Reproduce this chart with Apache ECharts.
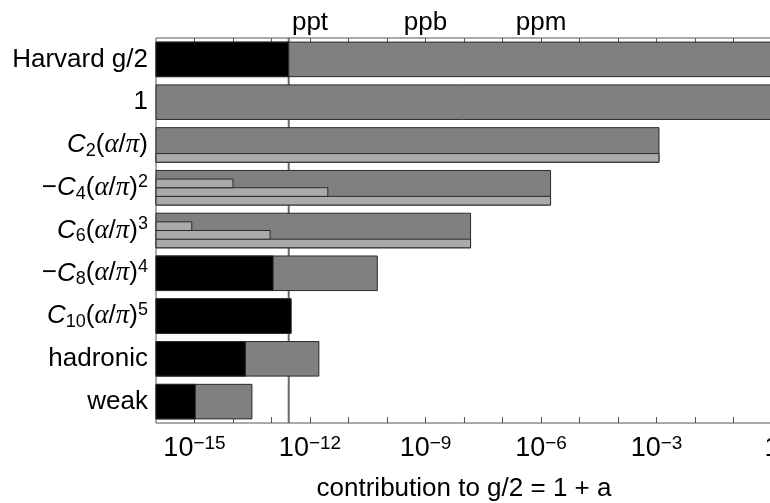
<!DOCTYPE html>
<html>
<head>
<meta charset="utf-8">
<script src="https://cdn.jsdelivr.net/npm/echarts@6/dist/echarts.min.js"></script>
<style>
  html, body { margin: 0; padding: 0; background: #fff; }
  #chart { width: 770px; height: 503px; }
</style>
</head>
<body>
<div id="chart"></div>
<script>
// rows, top to bottom
var categories = ['Harvard g/2', '1', 'C2', '-C4', 'C6', '-C8', 'C10', 'hadronic', 'weak'];

// size of each contribution (dark grey bars)
var contribution = [1.00116, 1, 1.16e-3, 1.77e-6, 1.48e-8, 5.6e-11, 3.1e-13, 1.7e-12, 3.1e-14];
// uncertainty of each contribution (black bars)
var uncertainty = [2.8e-13, null, null, null, null, 1.1e-13, 3.25e-13, 2.1e-14, 1.05e-15];
// pieces of the QED terms (light grey bars): mass independent, muon loop, tau loop
var termMain = [null, null, 1.16e-3, 1.77e-6, 1.48e-8, null, null, null, null];
var termMuon = [null, null, null, 2.9e-12, 9.2e-14, null, null, null, null];
var termTau = [null, null, null, 1.0e-14, 8.5e-16, null, null, null, null];

// precision of the Harvard measurement
var harvardPrecision = 2.8e-13;

// axis ticks: one per decade, labels every third decade
var tickValues = [1e-15, 1e-14, 1e-13, 1e-12, 1e-11, 1e-10, 1e-9, 1e-8, 1e-7, 1e-6, 1e-5, 1e-4, 1e-3, 1e-2, 1e-1, 1];
var bottomLabelValues = [1e-15, 1e-12, 1e-9, 1e-6, 1e-3, 1];
var topLabels = {'-12': 'ppt', '-9': 'ppb', '-6': 'ppm'};

var font = 'Liberation Sans, Arial, Helvetica, sans-serif';

var labelText = {
    'Harvard g/2': '{n|Harvard g/2}',
    '1': '{n|1}',
    'C2': '{it|C}{sub|2}{n|(}{gr|α}{n|/}{gr|π}{n|)}',
    '-C4': '{n|−}{it|C}{sub|4}{n|(}{gr|α}{n|/}{gr|π}{n|)}{sup|2}',
    'C6': '{it|C}{sub|6}{n|(}{gr|α}{n|/}{gr|π}{n|)}{sup|3}',
    '-C8': '{n|−}{it|C}{sub|8}{n|(}{gr|α}{n|/}{gr|π}{n|)}{sup|4}',
    'C10': '{it|C}{sub|10}{n|(}{gr|α}{n|/}{gr|π}{n|)}{sup|5}',
    'hadronic': '{n|hadronic}',
    'weak': '{n|weak}'
};

function rows(values, lane) {
    var out = [];
    values.forEach(function (v, i) {
        if (v != null) out.push([v, i, lane]);
    });
    return out;
}

// lane 0 = full bar height, lanes 1..3 = quarter strips
function barRenderer(fill) {
    return function (params, api) {
        var v = api.value(0);
        var cat = api.value(1);
        var lane = api.value(2);
        var end = api.coord([v, cat]);
        var x0 = params.coordSys.x;
        var band = api.size([0, 1])[1];
        var h = band * 0.808;
        var top = end[1] - h / 2;
        var y = top, hh = h;
        if (lane > 0) {
            hh = h / 4;
            y = top + lane * hh;
        }
        return {
            type: 'rect',
            shape: {x: x0, y: y, width: end[0] - x0, height: hh},
            style: {fill: fill, stroke: '#2a2a2a', lineWidth: 1}
        };
    };
}

function exponent(v) {
    return Math.round(Math.log10(v));
}

var chart = echarts.init(document.getElementById('chart'));

chart.setOption({
    animation: false,
    grid: {
        left: 156, top: 38, width: 616, height: 385,
        outerBoundsMode: 'none', containLabel: false,
        show: true, borderColor: '#555', borderWidth: 1, backgroundColor: 'transparent'
    },
    xAxis: [
        {
            type: 'log',
            logBase: 10,
            min: 1e-16,
            max: 1,
            interval: 1,
            position: 'bottom',
            axisLine: {show: false, onZero: false},
            axisTick: {show: true, inside: true, length: 6, customValues: tickValues, lineStyle: {color: '#555'}},
            splitLine: {show: false},
            axisLabel: {
                margin: 11,
                customValues: bottomLabelValues,
                formatter: function (v) {
                    var e = exponent(v);
                    if (e === 0) return '{b|1}';
                    return '{b|10}{s|−' + (-e) + '}';
                },
                rich: {
                    b: {fontFamily: font, fontSize: 27, lineHeight: 30, color: '#000'},
                    s: {fontFamily: font, fontSize: 19, lineHeight: 16, verticalAlign: 'top', color: '#000'}
                }
            },
            name: 'contribution to g/2 = 1 + a',
            nameLocation: 'middle',
            nameGap: 53,
            nameTextStyle: {fontFamily: font, fontSize: 26, color: '#000'}
        },
        {
            type: 'log',
            logBase: 10,
            min: 1e-16,
            max: 1,
            interval: 1,
            position: 'top',
            axisLine: {show: false, onZero: false},
            axisTick: {show: true, inside: true, length: 4, customValues: tickValues, lineStyle: {color: '#555'}},
            splitLine: {show: false},
            axisLabel: {
                margin: 2,
                fontFamily: font,
                fontSize: 26,
                color: '#000',
                formatter: function (v) {
                    return topLabels[exponent(v)] || '';
                }
            }
        }
    ],
    yAxis: {
        type: 'category',
        data: categories,
        inverse: true,
        axisLine: {show: false, onZero: false},
        axisTick: {show: false},
        splitLine: {show: false},
        axisLabel: {
            margin: 8,
            formatter: function (v) {
                return labelText[v];
            },
            rich: {
                n: {fontFamily: font, fontSize: 26, lineHeight: 30, color: '#000'},
                it: {fontFamily: font, fontSize: 26, lineHeight: 30, fontStyle: 'italic', color: '#000'},
                gr: {fontFamily: 'Liberation Serif, Times New Roman, serif', fontSize: 27, lineHeight: 30, fontStyle: 'italic', color: '#000'},
                sub: {fontFamily: font, fontSize: 18, lineHeight: 21, verticalAlign: 'bottom', color: '#000'},
                sup: {fontFamily: font, fontSize: 18, lineHeight: 19, verticalAlign: 'top', color: '#000'}
            }
        }
    },
    series: [
        {
            // vertical line at the Harvard precision, behind the bars
            type: 'custom',
            name: 'Harvard precision',
            z: 1,
            silent: true,
            renderItem: function (params, api) {
                var p = api.coord([api.value(0), 0]);
                var cs = params.coordSys;
                return {
                    type: 'line',
                    shape: {x1: p[0], y1: cs.y, x2: p[0], y2: cs.y + cs.height},
                    style: {stroke: '#6a6a6a', lineWidth: 2}
                };
            },
            encode: {x: 0, y: 1},
            data: [[harvardPrecision, 0]]
        },
        {
            type: 'custom',
            name: 'contribution',
            z: 2,
            renderItem: barRenderer('#808080'),
            encode: {x: 0, y: 1},
            data: rows(contribution, 0)
        },
        {
            type: 'custom',
            name: 'main term',
            z: 3,
            renderItem: barRenderer('#aaaaaa'),
            encode: {x: 0, y: 1},
            data: rows(termMain, 3)
        },
        {
            type: 'custom',
            name: 'muon loop',
            z: 3,
            renderItem: barRenderer('#aaaaaa'),
            encode: {x: 0, y: 1},
            data: rows(termMuon, 2)
        },
        {
            type: 'custom',
            name: 'tau loop',
            z: 3,
            renderItem: barRenderer('#aaaaaa'),
            encode: {x: 0, y: 1},
            data: rows(termTau, 1)
        },
        {
            type: 'custom',
            name: 'uncertainty',
            z: 4,
            renderItem: barRenderer('#000000'),
            encode: {x: 0, y: 1},
            data: rows(uncertainty, 0)
        }
    ]
});
</script>
</body>
</html>
